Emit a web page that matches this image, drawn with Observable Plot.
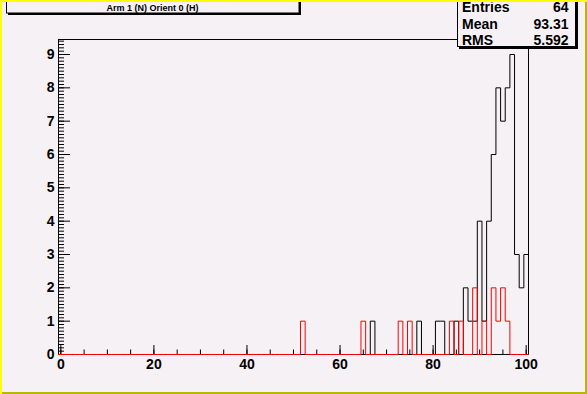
<!DOCTYPE html>
<html><head><meta charset="utf-8">
<script src="https://cdn.jsdelivr.net/npm/d3@7"></script>
<script src="https://cdn.jsdelivr.net/npm/@observablehq/plot@0.6"></script>
<style>html,body{margin:0;padding:0;background:#f5f1f5;overflow:hidden}</style>
</head><body><div id="chart"></div>
<script>
// ---- data ----
const title = "Arm 1 (N) Orient 0 (H)";
const statLabels = ["Entries", "Mean", "RMS"];
const statValues = ["64", "93.31", "5.592"];
const blackBins   = [67, 77, 81, 82, 85, 87, 88, 89, 90, 91, 92, 93, 94, 95, 96, 97, 98, 99, 100];
const blackCounts = [ 1,  1,  1,  1,  1,  2,  1,  1,  4,  1,  4,  6,  8,  7,  8,  9,  3,  2,   3];
const redBins   = [52, 65, 73, 75, 84, 86, 89, 91, 93, 94, 95, 96];
const redCounts = [ 1,  1,  1,  1,  1,  1,  2,  1,  2,  1,  2,  1];
const xTickLabels = [0, 20, 40, 60, 80, 100];
const yTickLabels = [0, 1, 2, 3, 4, 5, 6, 7, 8, 9];

// ---- layout ----
const W = 587, H = 394;
const mL = 58, mR = 59, mT = 39, mB = 40;
const frameW = W - mL - mR, frameH = H - mT - mB;
const nBins = 101;
const bg = "#f5f1f5";
const font = "'Liberation Sans', Arial, Helvetica, sans-serif";

function steps(bins, counts) {
  const v = new Array(nBins).fill(0);
  bins.forEach((b, i) => { v[b] = counts[i]; });
  const pts = v.map((c, i) => ({x: i - 0.5, y: c}));
  pts.push({x: nBins - 0.5, y: v[nBins - 1]});
  pts.push({x: nBins - 0.5, y: 0});
  return pts;
}
const xMinor = d3.range(0, 101, 5);
const yMinor = d3.range(0, 95).map(i => i / 10);

const chart = Plot.plot({
  width: W, height: H,
  marginLeft: mL, marginRight: mR, marginTop: mT, marginBottom: mB,
  x: {domain: [-0.5, 100.5], label: null},
  y: {domain: [0, 9.45], label: null},
  style: {background: bg, fontFamily: font, fontSize: "14px", fontWeight: "bold", color: "black", overflow: "visible"},
  marks: [
    Plot.frame({stroke: "black"}),
    Plot.tickX(xMinor, {x: d => d, stroke: "black", insetTop: frameH - 4.5}),
    Plot.tickX(xTickLabels, {x: d => d, stroke: "black", insetTop: frameH - 9}),
    Plot.tickY(yMinor, {y: d => d, stroke: "black", insetRight: frameW - 6}),
    Plot.tickY(yTickLabels, {y: d => d, stroke: "black", insetRight: frameW - 12}),
    Plot.axisX({ticks: xTickLabels, tickSize: 0, tickPadding: 5, label: null, fontSize: 14, fontWeight: "bold", fill: "black"}),
    Plot.axisY({ticks: yTickLabels, tickSize: 0, tickPadding: 4, label: null, fontSize: 14, fontWeight: "bold", fill: "black"}),
    Plot.line(steps(blackBins, blackCounts), {x: "x", y: "y", curve: "step-after", stroke: "black", strokeWidth: 1}),
    Plot.line(steps(redBins, redCounts), {x: "x", y: "y", curve: "step-after", stroke: "#ff0000", strokeWidth: 1})
  ]
});
document.getElementById("chart").appendChild(chart);

// ---- overlays: title pave, stats pave, canvas border ----
const svg = d3.select(chart);
const g = svg.append("g").attr("font-family", font).attr("font-weight", "bold").attr("text-anchor", "start");

// title box
g.append("rect").attr("x", 8).attr("y", -10).attr("width", 293).attr("height", 25).attr("fill", "black");
g.append("rect").attr("x", 6.5).attr("y", -10).attr("width", 292.5).attr("height", 23).attr("fill", bg).attr("stroke", "black").attr("stroke-width", 1);
g.append("text").attr("x", 152.5).attr("y", 11).attr("text-anchor", "middle").attr("font-size", 9).attr("fill", "black").text(title);

// stats box
g.append("rect").attr("x", 459).attr("y", -10).attr("width", 119).attr("height", 59).attr("fill", "black");
g.append("rect").attr("x", 457.5).attr("y", -10).attr("width", 118).attr("height", 56.5).attr("fill", bg).attr("stroke", "black").attr("stroke-width", 1);
const rowY = [12, 28.8, 44.5];
statLabels.forEach((s, i) => {
  g.append("text").attr("x", 462).attr("y", rowY[i]).attr("text-anchor", "start").attr("font-size", 14).attr("fill", "black").text(s);
  g.append("text").attr("x", 568.5).attr("y", rowY[i]).attr("text-anchor", "end").attr("font-size", 14).attr("fill", "black").text(statValues[i]);
});

// canvas bevel border
g.append("rect").attr("x", 0).attr("y", 0).attr("width", W).attr("height", 2).attr("fill", "#ffff00");
g.append("rect").attr("x", 0).attr("y", 0).attr("width", 2).attr("height", H).attr("fill", "#ffff00");
g.append("rect").attr("x", W - 2).attr("y", 2).attr("width", 2).attr("height", H - 2).attr("fill", "#b8b800");
g.append("rect").attr("x", 2).attr("y", H - 2).attr("width", W - 2).attr("height", 2).attr("fill", "#b8b800");
</script>
</body></html>
